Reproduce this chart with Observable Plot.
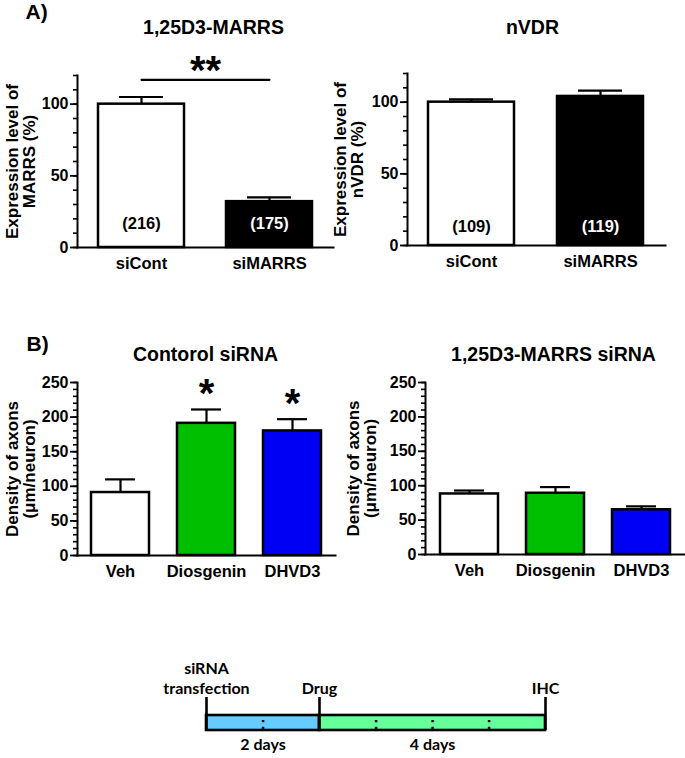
<!DOCTYPE html>
<html><head><meta charset="utf-8">
<script src="https://cdn.jsdelivr.net/npm/d3@7"></script>
<script src="https://cdn.jsdelivr.net/npm/@observablehq/plot@0.6"></script>
<style>
body{margin:0;background:#fff;}
#fig{position:relative;width:685px;height:758px;overflow:hidden;background:#fff;}
</style></head><body><div id="fig"></div>
<script>
// ---------- data ----------
// Panel A
const groupsA = ["siCont", "siMARRS"];
const marrsMean = [100, 32];
const marrsUpper = [105, 35];
const marrsN = ["(216)", "(175)"];
const marrsSigLevel = 117;
const marrsSig = "**";
const vdrMean = [100, 104];
const vdrUpper = [102, 108];
const vdrN = ["(109)", "(119)"];
const ticksA = [0, 50, 100];
const yMaxA = 120;
// Panel B
const treatments = ["Veh", "Diosgenin", "DHVD3"];
const ctrlMean = [91, 191, 180];
const ctrlUpper = [110, 211, 197];
const ctrlSig = ["", "*", "*"];
const kdMean = [88, 89, 65];
const kdUpper = [93, 98, 70];
const ticksB = [0, 50, 100, 150, 200, 250];
const yMaxB = 250;
// Timeline
const phaseLabels = ["2 days", "4 days"];
const phaseStart = [0, 2];
const phaseEnd = [2, 6];
const eventLabels = ["siRNA\ntransfection", "Drug", "IHC"];
const eventDays = [0, 2, 6];
const markDays = [1, 3, 4, 5];

// ---------- styles ----------
const colorsA = ["white", "black"];
const nTextA = ["black", "white"];
const colorsB = ["white", "#00BE00", "#0000F5"];
const phaseColors = ["#66CCFF", "#66FF99"];
const FONT = "'Liberation Sans', Arial, sans-serif";

const fig = document.getElementById("fig");
function place(svg, left, top) {
  svg.style.position = "absolute";
  svg.style.left = left + "px";
  svg.style.top = top + "px";
  fig.appendChild(svg);
}

function barPanel(o) {
  const data = o.cats.map((c, i) => ({
    cat: c, mean: o.mean[i], upper: o.upper[i],
    n: o.n ? o.n[i] : "", nFill: o.nFill ? o.nFill[i] : "black",
    sig: o.sig ? o.sig[i] : ""
  }));
  const minor = d3.range(0, o.yMax + 1e-9, 10);
  const marks = [
    Plot.barY(data, {x: "cat", y: "mean", fill: "cat", stroke: "black", strokeWidth: 2.5}),
    Plot.ruleX(data, {x: "cat", y1: "mean", y2: "upper", stroke: "black", strokeWidth: 2.2}),
    Plot.tickY(data, {x: "cat", y: "upper", stroke: "black", strokeWidth: 2.2, insetLeft: o.capInset, insetRight: o.capInset}),
    Plot.axisY(minor, {tickSize: 4, tickFormat: () => "", strokeWidth: 1.6, label: null}),
    Plot.axisY(o.ticks, {tickSize: 7, tickPadding: 2, fontSize: 16, strokeWidth: 1.8, label: null}),
    Plot.axisX({tickSize: 0, tickPadding: 10, fontSize: 16.5, label: null}),
    Plot.frame({anchor: "left", strokeWidth: 2}),
    Plot.frame({anchor: "bottom", strokeWidth: 2}),
    Plot.text([o.title], {frameAnchor: "top", textAnchor: "middle", lineAnchor: "bottom", dx: o.titleDx, dy: o.titleDy, fontSize: 19.5}),
    Plot.text([o.ylabel], {frameAnchor: "left", textAnchor: "middle", rotate: -90, dx: o.ylabelDx, fontSize: 17, lineHeight: 1.0})
  ];
  data.forEach(d => {
    if (d.n) marks.push(Plot.text([d], {x: "cat", y: () => 0, text: "n", fill: d.nFill, lineAnchor: "bottom", dy: o.nDy, fontSize: 16.5}));
  });
  if (o.sig) marks.push(Plot.text(data, {x: "cat", y: "upper", text: "sig", lineAnchor: "bottom", dy: -2, fontSize: 40}));
  if (o.letter) marks.push(Plot.text([o.letter], {frameAnchor: "top-left", textAnchor: "start", lineAnchor: "bottom", dx: o.letterDx, dy: o.letterDy, fontSize: 21}));
  if (o.extra) marks.push(...o.extra);
  return Plot.plot({
    width: o.width, height: o.height,
    marginLeft: o.ml, marginRight: o.mr, marginTop: o.mt, marginBottom: o.mb,
    x: {domain: o.cats, paddingInner: 0.33, paddingOuter: 0.16, label: null},
    y: {domain: [0, o.yMax], label: null},
    color: {domain: o.cats, range: o.colors},
    style: {fontFamily: FONT, fontWeight: "bold", fontSize: "15px", color: "black", background: "white", overflow: "visible"},
    marks
  });
}

// A-left
const sigData = [{cat: groupsA[0], v: marrsSigLevel}, {cat: groupsA[1], v: marrsSigLevel}];
place(barPanel({
  cats: groupsA, mean: marrsMean, upper: marrsUpper, n: marrsN, nFill: nTextA, colors: colorsA,
  ticks: ticksA, yMax: yMaxA, capInset: 21, nDy: -19,
  title: "1,25D3-MARRS", titleDx: 8, titleDy: -42,
  ylabel: "Expression level of\nMARRS (%)", ylabelDx: -56,
  letter: "A)", letterDx: -52, letterDy: -57,
  width: 340, height: 290, ml: 77, mr: 7, mt: 75, mb: 43,
  extra: [
    Plot.line(sigData, {x: "cat", y: "v", stroke: "black", strokeWidth: 2.2}),
    Plot.text([marrsSig], {y: () => marrsSigLevel, text: d => d, lineAnchor: "bottom", dy: 4.5, fontSize: 40})
  ]
}), 0, 0);

// A-right
place(barPanel({
  cats: groupsA, mean: vdrMean, upper: vdrUpper, n: vdrN, nFill: nTextA, colors: colorsA,
  ticks: ticksA, yMax: yMaxA, capInset: 21, nDy: -13.5,
  title: "nVDR", titleDx: -4, titleDy: -40,
  ylabel: "Expression level of\nnVDR (%)", ylabelDx: -58,
  width: 345, height: 290, ml: 67, mr: 20, mt: 73, mb: 45
}), 340, 0);

// B-left
place(barPanel({
  cats: treatments, mean: ctrlMean, upper: ctrlUpper, sig: ctrlSig, colors: colorsB,
  ticks: ticksB, yMax: yMaxB, capInset: 14,
  title: "Contorol siRNA", titleDx: -1, titleDy: -22,
  ylabel: "Density of axons\n(\u03bcm/neuron)", ylabelDx: -56,
  letter: "B)", letterDx: -51, letterDy: -32,
  width: 340, height: 290, ml: 77, mr: 5, mt: 82, mb: 35
}), 0, 300);

// B-right
place(barPanel({
  cats: treatments, mean: kdMean, upper: kdUpper, colors: colorsB,
  ticks: ticksB, yMax: yMaxB, capInset: 14,
  title: "1,25D3-MARRS siRNA", titleDx: -1.5, titleDy: -22,
  ylabel: "Density of axons\n(\u03bcm/neuron)", ylabelDx: -63,
  width: 345, height: 290, ml: 85, mr: 1, mt: 82, mb: 36
}), 340, 300);

// Timeline
const phases = phaseLabels.map((p, i) => ({phase: p, start: phaseStart[i], end: phaseEnd[i]}));
const events = eventLabels.map((e, i) => ({label: e, day: eventDays[i]}));
const TLFONT = "Lato, 'Open Sans', sans-serif";
place(Plot.plot({
  width: 685, height: 158,
  marginLeft: 206, marginRight: 140, marginTop: 97, marginBottom: 28,
  x: {domain: [0, 6], axis: null},
  color: {domain: phaseLabels, range: phaseColors},
  style: {fontFamily: TLFONT, fontWeight: "bold", fontSize: "16px", color: "black", background: "white", overflow: "visible"},
  marks: [
    Plot.rect(phases, {x1: "start", x2: "end", fill: "phase", stroke: "black", strokeWidth: 2.6, insetTop: 18}),
    Plot.ruleX(events, {x: "day", stroke: "black", strokeWidth: 2.6}),
    Plot.text(markDays, {x: d => d, text: () => ":", frameAnchor: "bottom", lineAnchor: "bottom", dy: -2, fontSize: 17, fontFamily: FONT}),
    Plot.text(events, {x: "day", text: "label", frameAnchor: "top", lineAnchor: "bottom", dy: -4, fontSize: 16, lineHeight: 1.2}),
    Plot.text(phases, {x: d => (d.start + d.end) / 2, text: "phase", frameAnchor: "bottom", lineAnchor: "bottom", dy: 19, fontSize: 16})
  ]
}), 0, 600);
</script>
</body></html>
